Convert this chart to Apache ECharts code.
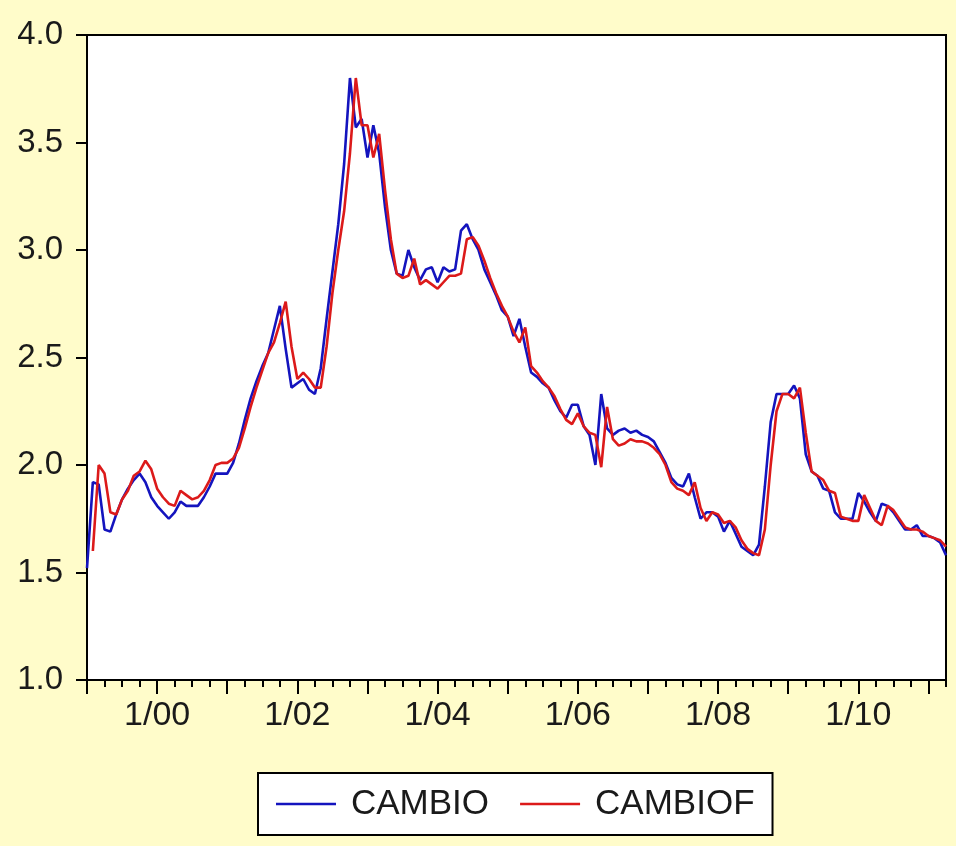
<!DOCTYPE html>
<html>
<head>
<meta charset="utf-8">
<script src="https://cdn.jsdelivr.net/npm/echarts@6/dist/echarts.min.js"></script>
<style>
  html, body { margin: 0; padding: 0; background: #FFFCCA; }
  #chart { width: 956px; height: 846px; }
</style>
</head>
<body>
<div id="chart"></div>
<script>
// Monthly observations 1999M01 .. 2011M04 (148 points)
const startYear = 1999;
const nObs = 148;
const months = [];
for (let i = 0; i < nObs; i++) {
  const y = startYear + Math.floor(i / 12);
  const m = (i % 12) + 1;
  months.push(m + '/' + String(y % 100).padStart(2, '0'));
}

const tickLabels = ['1/00', '1/02', '1/04', '1/06', '1/08', '1/10'];

const cambio = [
  1.52, 1.92, 1.91, 1.70, 1.69, 1.77, 1.84, 1.89, 1.93, 1.96, 1.92, 1.85,
  1.81, 1.78, 1.75, 1.78, 1.83, 1.81, 1.81, 1.81, 1.85, 1.90, 1.96, 1.96,
  1.96, 2.01, 2.10, 2.21, 2.31, 2.39, 2.46, 2.52, 2.63, 2.74, 2.54, 2.36,
  2.38, 2.40, 2.35, 2.33, 2.45, 2.68, 2.90, 3.12, 3.40, 3.80, 3.57, 3.61,
  3.43, 3.58, 3.45, 3.20, 3.00, 2.89, 2.88, 3.00, 2.92, 2.86, 2.91, 2.92,
  2.85, 2.92, 2.90, 2.91, 3.09, 3.12, 3.05, 3.00, 2.91, 2.85, 2.79, 2.72,
  2.69, 2.60, 2.68, 2.55, 2.43, 2.41, 2.38, 2.36, 2.30, 2.25, 2.22, 2.28,
  2.28, 2.18, 2.14, 2.00, 2.33, 2.17, 2.14, 2.16, 2.17, 2.15, 2.16, 2.14,
  2.13, 2.11, 2.06, 2.01, 1.94, 1.91, 1.90, 1.96, 1.85, 1.75, 1.78, 1.78,
  1.76, 1.69, 1.74, 1.68, 1.62, 1.60, 1.58, 1.63, 1.90, 2.20, 2.33, 2.33,
  2.33, 2.37, 2.31, 2.05, 1.97, 1.95, 1.89, 1.88, 1.78, 1.75, 1.75, 1.75,
  1.87, 1.83, 1.78, 1.74, 1.82, 1.81, 1.78, 1.74, 1.70, 1.70, 1.72, 1.67,
  1.67, 1.66, 1.64, 1.58
];

const cambiof = [
  null, 1.60, 2.00, 1.96, 1.78, 1.77, 1.84, 1.88, 1.95, 1.97, 2.02, 1.98,
  1.89, 1.85, 1.82, 1.81, 1.88, 1.86, 1.84, 1.85, 1.88, 1.93, 2.00, 2.01,
  2.01, 2.03, 2.08, 2.17, 2.27, 2.36, 2.44, 2.52, 2.57, 2.66, 2.76, 2.55,
  2.40, 2.43, 2.40, 2.36, 2.36, 2.55, 2.80, 3.00, 3.18, 3.45, 3.80, 3.58,
  3.58, 3.43, 3.54, 3.28, 3.05, 2.89, 2.87, 2.88, 2.96, 2.84, 2.86, 2.84,
  2.82, 2.85, 2.88, 2.88, 2.89, 3.05, 3.06, 3.02, 2.95, 2.87, 2.80, 2.74,
  2.69, 2.62, 2.57, 2.64, 2.46, 2.43, 2.39, 2.36, 2.32, 2.26, 2.21, 2.19,
  2.24, 2.18, 2.15, 2.14, 1.99, 2.27, 2.12, 2.09, 2.10, 2.12, 2.11, 2.11,
  2.10, 2.08, 2.05, 2.00, 1.92, 1.89, 1.88, 1.86, 1.92, 1.80, 1.74, 1.78,
  1.77, 1.73, 1.74, 1.71, 1.65, 1.61, 1.59, 1.58, 1.70, 2.00, 2.25, 2.33,
  2.33, 2.31, 2.36, 2.15, 1.97, 1.95, 1.93, 1.88, 1.87, 1.76, 1.75, 1.74,
  1.74, 1.86, 1.80, 1.74, 1.72, 1.81, 1.79, 1.75, 1.71, 1.70, 1.70, 1.69,
  1.67, 1.66, 1.65, 1.62
];

const FONT = '"Liberation Sans", Arial, sans-serif';
const TXT = '#1a1a1a';
const BLUE = '#1414BE';
const RED = '#DC1A1A';

const chart = echarts.init(document.getElementById('chart'), null, { renderer: 'canvas' });
chart.setOption({
  backgroundColor: '#FFFCCA',
  animation: false,
  grid: {
    left: 87, right: 10, top: 35, bottom: 166,
    show: true, backgroundColor: '#ffffff',
    borderColor: '#000', borderWidth: 2
  },
  legend: {
    left: 258, top: 773,
    data: [
      { name: 'CAMBIO', icon: 'rect', itemStyle: { color: BLUE } },
      { name: 'CAMBIOF', icon: 'rect', itemStyle: { color: RED } }
    ],
    backgroundColor: '#ffffff',
    borderColor: '#000', borderWidth: 2, borderRadius: 0,
    padding: [12, 18, 12, 18],
    itemWidth: 60, itemHeight: 2.5, itemGap: 31,
    textStyle: { fontFamily: FONT, fontSize: 35, color: TXT, lineHeight: 38, padding: [0, 0, 0, 10] }
  },
  xAxis: [
    {
      type: 'category', data: months, boundaryGap: false, position: 'bottom',
      axisLine: { show: true, lineStyle: { color: '#000', width: 2 } },
      axisTick: { show: true, inside: false, length: 7, interval: (i) => i % 3 === 0,
        lineStyle: { color: '#000', width: 2 } },
      axisLabel: { show: false },
      splitLine: { show: false }
    },
    {
      type: 'category', data: months, boundaryGap: false, position: 'bottom',
      axisLine: { show: false },
      axisTick: { show: true, inside: false, length: 14, interval: (i) => i % 12 === 0,
        lineStyle: { color: '#000', width: 2 } },
      axisLabel: {
        show: true, margin: 19, fontFamily: FONT, fontSize: 34, color: TXT,
        interval: (i, v) => tickLabels.indexOf(v) >= 0,
        formatter: (v) => v
      },
      splitLine: { show: false }
    }
  ],
  yAxis: {
    type: 'value', min: 1, max: 4, interval: 0.5,
    axisLine: { show: true, lineStyle: { color: '#000', width: 2 } },
    axisTick: { show: true, inside: false, length: 11, lineStyle: { color: '#000', width: 2 } },
    axisLabel: { margin: 24, fontFamily: FONT, fontSize: 33, color: TXT, formatter: (v) => v.toFixed(1) },
    splitLine: { show: false }
  },
  series: [
    {
      name: 'CAMBIO', type: 'line', data: cambio, xAxisIndex: 0,
      symbol: 'none', connectNulls: false,
      lineStyle: { color: BLUE, width: 2.6 }, itemStyle: { color: BLUE }
    },
    {
      name: 'CAMBIOF', type: 'line', data: cambiof, xAxisIndex: 0,
      symbol: 'none', connectNulls: false,
      lineStyle: { color: RED, width: 2.6 }, itemStyle: { color: RED }
    }
  ]
});
</script>
</body>
</html>
